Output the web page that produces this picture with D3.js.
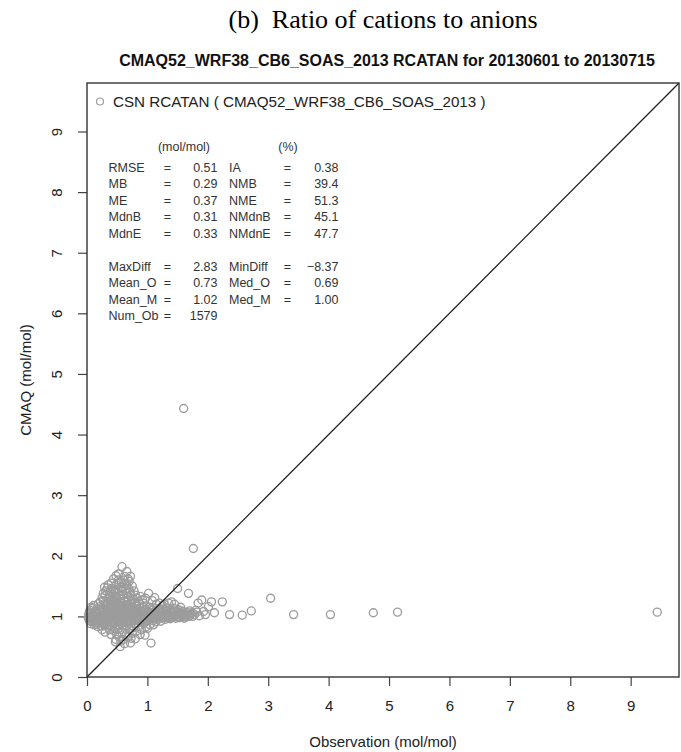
<!DOCTYPE html>
<html>
<head>
<meta charset="utf-8">
<script src="https://cdn.jsdelivr.net/npm/d3@7"></script>
<style>
  body { margin: 0; background: #fff; }
  #chart { width: 681px; height: 752px; }
</style>
</head>
<body>
<div id="chart"></div>
<script>
// observation vs CMAQ ratio pairs
const clusterPoints = [
    [0.02,0.98],[0.03,1.04],[0.04,0.93],[0.05,1.10],[0.05,1.00],[0.06,0.88],[0.07,1.15],[0.08,0.97],
    [0.08,1.06],[0.09,0.91],[0.10,1.02],[0.11,1.18],[0.12,0.95],[0.12,0.86],[0.13,1.08],[0.14,1.00],
    [0.15,0.92],[0.16,1.12],[0.17,1.04],[0.18,0.83],[0.18,0.97],[0.19,1.21],[0.20,1.01],[0.21,0.89],
    [0.22,1.07],[0.23,0.95],[0.24,1.14],[0.25,0.78],[0.25,1.03],[0.26,0.99],[0.27,1.26],[0.28,0.91],
    [0.28,1.10],[0.29,1.02],[0.30,0.85],[0.30,1.17],
    [0.31,0.96],[0.32,1.05],[0.33,0.90],[0.34,1.11],[0.35,0.99],[0.36,1.02],[0.37,0.94],[0.38,1.08],
    [0.39,0.98],[0.40,1.13],[0.41,0.92],[0.42,1.03],[0.43,0.97],[0.44,1.09],[0.45,0.88],[0.46,1.00],
    [0.47,1.06],[0.48,0.95],[0.49,1.15],[0.50,1.01],[0.51,0.93],[0.52,1.04],[0.53,0.98],[0.54,1.10],
    [0.55,0.91],[0.56,1.02],[0.57,0.96],[0.58,1.07],[0.59,0.99],[0.60,1.12],
    [0.61,0.94],[0.62,1.03],[0.63,0.97],[0.64,1.08],[0.65,0.90],[0.66,1.01],[0.67,1.05],[0.68,0.95],
    [0.69,1.14],[0.70,0.99],[0.71,1.02],[0.72,0.92],[0.73,1.06],[0.74,0.97],[0.75,1.10],[0.76,1.00],
    [0.77,0.94],[0.78,1.04],[0.79,0.98],[0.80,1.08],[0.81,0.93],[0.82,1.02],[0.83,0.96],[0.84,1.12],
    [0.85,1.00],[0.86,0.95],[0.87,1.05],[0.88,0.99],[0.89,1.09],[0.90,0.97],
    [0.91,1.03],[0.92,0.94],[0.93,1.07],[0.94,1.00],[0.95,0.96],[0.96,1.11],[0.97,1.02],[0.98,0.92],
    [0.99,1.05],[1.00,0.98],[1.01,1.08],[1.02,1.01],[1.03,0.95],[1.04,1.04],[1.05,0.99],[1.06,1.13],
    [1.07,0.97],[1.08,1.02],[1.09,0.93],[1.10,1.06],[1.11,1.00],[1.12,0.96],[1.13,1.09],[1.14,1.02],
    [1.15,0.98],[1.16,1.04],[1.17,0.95],[1.18,1.11],[1.19,1.00],[1.20,1.05],
    [1.22,0.97],[1.23,1.02],[1.25,1.08],[1.26,0.99],[1.28,1.04],[1.29,0.95],[1.31,1.01],[1.32,1.10],
    [1.34,0.98],[1.35,1.05],[1.37,1.00],[1.38,0.96],[1.40,1.07],[1.41,1.02],[1.43,0.99],[1.44,1.13],
    [1.46,1.03],[1.47,0.97],[1.49,1.06],[1.50,1.00],[1.52,1.04],[1.53,0.98],[1.55,1.09],[1.57,1.01],
    [1.58,1.05],[1.60,0.99],[1.62,1.03],[1.65,1.07],[1.68,1.00],[1.72,1.04],
    [1.35,1.22],[1.25,1.18],[1.45,1.20],[1.15,1.20],[1.80,1.10],[1.75,1.00],[1.55,1.15],
    [0.04,1.07],[0.07,0.95],[0.09,1.13],[0.11,0.99],[0.14,1.05],[0.16,0.94],[0.19,1.09],[0.21,1.16],
    [0.23,1.01],[0.26,1.08],[0.29,0.96],[0.32,1.19],[0.34,1.03],[0.37,1.12],[0.39,1.06],[0.41,1.17],
    [0.43,1.01],[0.46,1.11],[0.48,1.21],[0.51,1.07],[0.53,1.13],[0.56,1.18],[0.58,1.01],[0.61,1.09],
    [0.63,1.16],[0.65,1.04],[0.68,1.12],[0.70,1.19],[0.73,1.02],[0.75,1.15],[0.77,1.07],[0.80,1.13],
    [0.82,1.19],[0.85,1.06],[0.87,1.14],[0.90,1.08],[0.92,1.16],[0.95,1.04],[0.97,1.12],[1.00,1.07],
    [1.03,1.15],[1.05,1.05],[1.08,1.10],[1.11,1.14],[1.13,1.03],[1.16,1.09],[1.19,1.13],[1.21,1.06],
    [1.24,1.12],[1.27,1.03],[1.30,1.08],[1.33,1.14],[1.36,1.03],[1.39,1.10],[1.42,1.05],[1.45,1.09],
    [1.48,1.02],[1.51,1.11],[1.54,1.06],[1.56,1.02],[1.59,1.08],[1.63,1.00],[1.66,1.04],[1.70,1.09],
    [1.74,1.06],[1.78,1.03],[1.82,1.07],[1.86,1.01],[1.93,1.08],
    [0.06,0.92],[0.13,0.90],[0.20,0.93],[0.27,0.88],[0.33,0.93],[0.40,0.95],[0.47,0.90],[0.54,0.94],
    [0.60,0.92],[0.67,0.93],[0.74,0.90],[0.81,0.96],[0.88,0.93],[0.95,0.91],[1.02,0.96],[1.09,0.98],
    [1.16,0.97],[1.23,0.99],[1.30,0.98],[1.37,0.97],[1.44,1.00],[1.52,0.99],[1.61,0.97],[1.70,1.01]
];

// upper plume above the band
const plumePoints = [
    [0.58,1.82],[0.66,1.74],[0.62,1.66],[0.52,1.60],[0.70,1.58],[0.40,1.55],[0.48,1.52],[0.75,1.50],
    [0.34,1.47],[0.56,1.48],[0.64,1.45],[0.44,1.43],[0.38,1.40],[0.71,1.41],[0.50,1.38],[0.60,1.36],
    [0.80,1.35],[0.30,1.34],[0.46,1.33],[0.68,1.31],[0.36,1.30],[0.55,1.29],[0.42,1.27],[0.76,1.28],
    [0.62,1.26],[0.33,1.25],[0.49,1.24],[0.85,1.25],[0.57,1.22],[0.72,1.21],[0.39,1.20],[0.66,1.19],
    [0.45,1.18],[0.81,1.17],[0.53,1.16],[0.93,1.22],[1.02,1.38],[0.97,1.30],[0.52,1.70],[0.44,1.62],
    [0.68,1.62],[0.35,1.52],[0.62,1.54],[0.57,1.57],
    [0.27,1.38],[0.31,1.42],[0.29,1.48],[0.37,1.35],[0.41,1.46],[0.43,1.36],[0.47,1.41],[0.51,1.45],
    [0.54,1.34],[0.58,1.41],[0.61,1.30],[0.65,1.38],[0.69,1.46],[0.73,1.35],[0.78,1.42],[0.83,1.30],
    [0.88,1.33],[0.92,1.27],[0.49,1.31],[0.39,1.26],[0.35,1.21],[0.45,1.25],[0.55,1.24],[0.64,1.23],
    [0.74,1.25],[0.79,1.22],[0.87,1.21],[0.60,1.48],[0.53,1.55],[0.66,1.52],[0.72,1.66],[0.61,1.60],
    [0.48,1.67],[0.25,1.31],[0.22,1.24],[1.08,1.26],[1.12,1.31],[1.20,1.22],[1.28,1.20],[1.40,1.24]
];

// lower scatter below the band
const lowPoints = [
    [0.40,0.70],[0.48,0.62],[0.55,0.50],[0.62,0.55],[0.72,0.56],[0.68,0.66],[0.58,0.73],[0.80,0.63],
    [0.96,0.69],[1.06,0.56],[0.90,0.78],[0.52,0.80],[0.44,0.77],[0.35,0.82],[0.63,0.79],[0.75,0.72],
    [0.85,0.84],[1.00,0.80],[0.30,0.74],[0.38,0.86],[0.66,0.85],[0.57,0.88],[0.78,0.88],[0.94,0.88],
    [1.10,0.86],[0.47,0.58],[0.60,0.62],
    [0.42,0.84],[0.49,0.71],[0.53,0.66],[0.56,0.59],[0.65,0.70],[0.70,0.80],[0.82,0.76],[0.61,0.84],
    [0.46,0.80],[0.37,0.78],[0.25,0.84],[0.16,0.87],[0.73,0.64],[0.88,0.70],[1.04,0.86],[0.51,0.86],
    [0.69,0.88],[0.78,0.82],[0.98,0.83],[1.14,0.91],[1.22,0.92],[0.32,0.89]
];

const outlierPoints = [
    [1.50,1.46],[1.68,1.38],[1.76,2.12],[1.84,1.22],[1.90,1.27],[2.01,1.16],[1.96,1.03],[2.06,1.24],
    [2.11,1.06],[2.24,1.24],[2.36,1.03],[2.57,1.02],[2.72,1.09],[3.04,1.30],[3.42,1.03],[4.03,1.03],
    [4.74,1.06],[5.14,1.07],[9.44,1.07],[1.60,4.43]
];

const axisTicks = [0, 1, 2, 3, 4, 5, 6, 7, 8, 9];

const statLabelsLeft = ["RMSE", "MB", "ME", "MdnB", "MdnE", "", "MaxDiff", "Mean_O", "Mean_M", "Num_Ob"];
const statValuesLeft = ["0.51", "0.29", "0.37", "0.31", "0.33", "", "2.83", "0.73", "1.02", "1579"];
const statLabelsRight = ["IA", "NMB", "NME", "NMdnB", "NMdnE", "", "MinDiff", "Med_O", "Med_M", ""];
const statValuesRight = ["0.38", "39.4", "51.3", "45.1", "47.7", "", "\u22128.37", "0.69", "1.00", ""];

const width = 681;
const height = 752;
const sans = "'Liberation Sans', Arial, sans-serif";

const svg = d3.select("#chart").append("svg")
    .attr("width", width)
    .attr("height", height)
    .attr("viewBox", [0, 0, width, height]);

const x = d3.scaleLinear().domain([0, 9.8]).range([87, 679]);
const y = d3.scaleLinear().domain([0, 9.8]).range([677, 83]);

// titles
svg.append("text")
    .attr("x", 383).attr("y", 28)
    .attr("text-anchor", "middle")
    .style("font-family", "'Liberation Serif', 'Times New Roman', serif")
    .style("font-size", "26px")
    .attr("xml:space", "preserve")
    .text("(b)  Ratio of cations to anions");

svg.append("text")
    .attr("x", 387).attr("y", 66)
    .attr("text-anchor", "middle")
    .style("font-family", sans)
    .style("font-size", "16px")
    .style("font-weight", "bold")
    .attr("fill", "#111")
    .text("CMAQ52_WRF38_CB6_SOAS_2013 RCATAN for 20130601 to 20130715");

// axes
const xAxis = svg.append("g")
    .attr("transform", `translate(0,${y(0)})`)
    .call(d3.axisBottom(x).tickValues(axisTicks).tickSize(9).tickPadding(14).tickSizeOuter(0));
xAxis.select(".domain").remove();
xAxis.selectAll("line").attr("stroke", "#444").attr("stroke-width", 1.2);
xAxis.selectAll("text").style("font-family", sans).style("font-size", "15px").attr("fill", "#222");

const yAxis = svg.append("g")
    .attr("transform", `translate(${x(0)},0)`)
    .call(d3.axisLeft(y).tickValues(axisTicks).tickSize(9).tickSizeOuter(0));
yAxis.select(".domain").remove();
yAxis.selectAll("line").attr("stroke", "#444").attr("stroke-width", 1.2);
yAxis.selectAll("text")
    .attr("x", null).attr("dy", "0.36em")
    .attr("text-anchor", "middle")
    .attr("transform", "translate(-30,0) rotate(-90)")
    .style("font-family", sans).style("font-size", "15px").attr("fill", "#222");

svg.append("text")
    .attr("x", 383).attr("y", 747)
    .attr("text-anchor", "middle")
    .style("font-family", sans).style("font-size", "15px").attr("fill", "#222")
    .text("Observation (mol/mol)");

svg.append("text")
    .attr("transform", `translate(31,${(y(0) + y(9.8)) / 2}) rotate(-90)`)
    .attr("text-anchor", "middle")
    .style("font-family", sans).style("font-size", "15px").attr("fill", "#222")
    .text("CMAQ (mol/mol)");

// points
const allPoints = clusterPoints.concat(plumePoints, lowPoints, outlierPoints);
svg.append("g")
    .attr("fill", "none")
    .attr("stroke", "#9c9c9c")
    .attr("stroke-width", 1.35)
    .selectAll("circle")
    .data(allPoints)
    .join("circle")
    .attr("cx", d => x(d[0]))
    .attr("cy", d => y(d[1]))
    .attr("r", 4);

// 1:1 line
svg.append("line")
    .attr("x1", x(0)).attr("y1", y(0))
    .attr("x2", x(9.8)).attr("y2", y(9.8))
    .attr("stroke", "#222").attr("stroke-width", 1.3);

// plot frame
svg.append("rect")
    .attr("x", x(0)).attr("y", y(9.8))
    .attr("width", x(9.8) - x(0)).attr("height", y(0) - y(9.8))
    .attr("fill", "none").attr("stroke", "#333").attr("stroke-width", 1.4);

// legend
svg.append("circle")
    .attr("cx", 100).attr("cy", 101.5).attr("r", 3.5)
    .attr("fill", "none").attr("stroke", "#9c9c9c").attr("stroke-width", 1.2);
svg.append("text")
    .attr("x", 113).attr("y", 107)
    .style("font-family", sans).style("font-size", "15.2px").attr("fill", "#222")
    .text("CSN RCATAN ( CMAQ52_WRF38_CB6_SOAS_2013 )");

// statistics table
const stats = svg.append("g")
    .style("font-family", sans).style("font-size", "12.5px").attr("fill", "#333");
stats.append("text").attr("x", 184).attr("y", 151).attr("text-anchor", "middle").text("(mol/mol)");
stats.append("text").attr("x", 288).attr("y", 151).attr("text-anchor", "middle").text("(%)");

const rowY = i => 171.8 + i * 16.5;
statLabelsLeft.forEach((label, i) => {
    if (!label) return;
    stats.append("text").attr("x", 108.5).attr("y", rowY(i)).text(label);
    stats.append("text").attr("x", 167.5).attr("y", rowY(i)).attr("text-anchor", "middle").text("=");
    stats.append("text").attr("x", 217.5).attr("y", rowY(i)).attr("text-anchor", "end").text(statValuesLeft[i]);
});
statLabelsRight.forEach((label, i) => {
    if (!label) return;
    stats.append("text").attr("x", 229).attr("y", rowY(i)).text(label);
    stats.append("text").attr("x", 287.5).attr("y", rowY(i)).attr("text-anchor", "middle").text("=");
    stats.append("text").attr("x", 338.5).attr("y", rowY(i)).attr("text-anchor", "end").text(statValuesRight[i]);
});
</script>
</body>
</html>
